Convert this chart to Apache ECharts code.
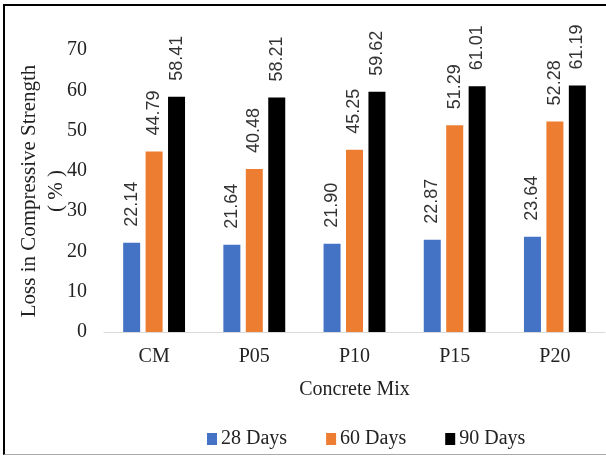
<!DOCTYPE html>
<html><head><meta charset="utf-8">
<script src="https://cdn.jsdelivr.net/npm/echarts@6/dist/echarts.min.js"></script>
<style>
html,body{margin:0;padding:0;background:#fff;}
#frame{position:absolute;left:3px;top:4px;width:610px;height:451px;border-left:2px solid #000;border-top:2px solid #000;border-bottom:1px solid #aaa;box-sizing:border-box;}
#c{position:absolute;left:0;top:0;width:606px;height:456px;}
</style></head>
<body>
<div id="frame"></div>
<div id="c"></div>
<script>
const categories = ['CM','P05','P10','P15','P20'];
const days28 = [22.14, 21.64, 21.90, 22.87, 23.64];
const days60 = [44.79, 40.48, 45.25, 51.29, 52.28];
const days90 = [58.41, 58.21, 59.62, 61.01, 61.19];
const seriesNames = ['28 Days','60 Days','90 Days'];
const colors = ['#4472C4','#ED7D31','#000000'];
const font = '"Liberation Serif","Times New Roman",serif';
const labelFont = '"Liberation Sans",Arial,sans-serif';

const chart = echarts.init(document.getElementById('c'));
const mk = (name, data, color) => ({
  name, type:'bar', data, barWidth:17, barGap:'32%',
  itemStyle:{color},
  label:{show:true, position:'top', rotate:90, align:'left', verticalAlign:'middle',
    distance:16, formatter:p=>p.value.toFixed(2), fontFamily:labelFont, fontSize:18, color:'#333'}
});
chart.setOption({
  animation:false,
  textStyle:{fontFamily:font},
  grid:{left:104, right:1, top:50, bottom:124, containLabel:false, outerBoundsMode:'none'},
  legend:{top:424, left:202, itemWidth:10, itemHeight:12, itemGap:39,
    textStyle:{fontFamily:font, fontSize:20, color:'#222', padding:[0,0,0,-1]}, icon:'rect',
    data:seriesNames},
  xAxis:{type:'category', data:categories, name:'Concrete Mix', nameLocation:'middle', nameGap:48,
    nameMoveOverlap:false,
    nameTextStyle:{fontFamily:font, fontSize:20, color:'#222'},
    axisLine:{lineStyle:{color:'#d9d9d9', width:1}}, axisTick:{show:false},
    axisLabel:{fontFamily:font, fontSize:20, color:'#222', margin:15}},
  yAxis:{type:'value', min:0, max:70, interval:10,
    name:'Loss in Compressive Strength\n( % )', nameLocation:'middle', nameGap:34, nameRotate:90,
    nameMoveOverlap:false,
    nameTextStyle:{fontFamily:font, fontSize:21, color:'#222', lineHeight:27},
    axisLine:{show:false}, axisTick:{show:false}, splitLine:{show:false},
    axisLabel:{fontFamily:font, fontSize:20, color:'#222', margin:17}},
  series:[mk(seriesNames[0], days28, colors[0]), mk(seriesNames[1], days60, colors[1]), mk(seriesNames[2], days90, colors[2])]
});
</script>
</body></html>
